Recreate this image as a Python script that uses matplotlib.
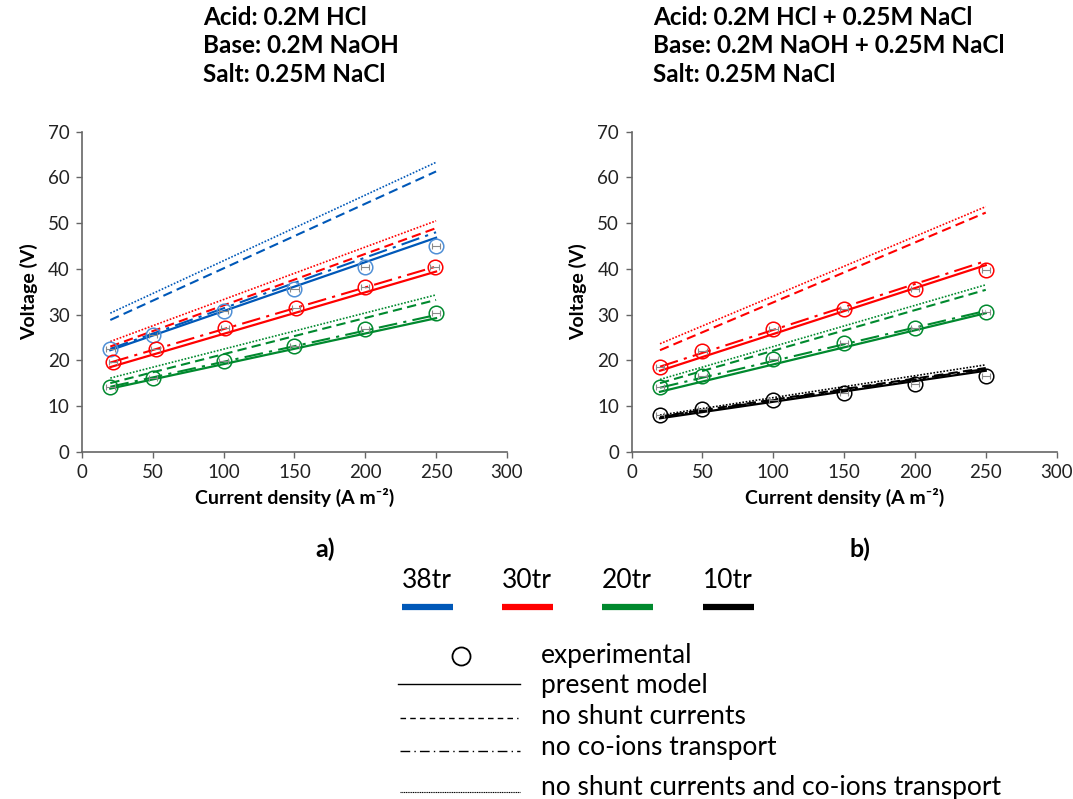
import matplotlib
matplotlib.use("Agg")
import matplotlib.pyplot as plt

plt.rcParams['font.family'] = ['Lato', 'DejaVu Sans']

# current densities of the measurements and the model line ends
x_exp = [20, 50, 100, 150, 200, 250]
x_exp_red = [22, 52, 101, 151, 200, 249]
x_model = [20, 250]

# panel a) - plain acid/base
a_38_exp = [22.5, 25.5, 30.7, 35.5, 40.4, 45.1]
a_38_model = [22.2, 46.8]
a_38_noshunt = [28.8, 61.3]
a_38_nocoion = [22.5, 48.0]
a_38_noboth = [30.3, 63.3]

a_30_exp = [19.6, 22.5, 27.0, 31.5, 36.0, 40.3]
a_30_model = [18.5, 39.4]
a_30_noshunt = [23.0, 48.9]
a_30_nocoion = [19.5, 40.5]
a_30_noboth = [24.1, 50.5]

a_20_exp = [14.1, 16.2, 19.8, 23.2, 26.8, 30.3]
a_20_model = [13.8, 29.2]
a_20_noshunt = [15.0, 33.2]
a_20_nocoion = [14.2, 29.9]
a_20_noboth = [16.1, 34.3]

# panel b) - acid/base with added NaCl
b_30_exp = [18.6, 22.0, 26.8, 31.2, 35.5, 39.7]
b_30_model = [17.7, 40.8]
b_30_noshunt = [22.2, 52.3]
b_30_nocoion = [18.6, 41.7]
b_30_noboth = [23.6, 53.6]

b_20_exp = [14.1, 16.6, 20.2, 23.7, 27.1, 30.6]
b_20_model = [13.1, 30.3]
b_20_noshunt = [15.0, 35.4]
b_20_nocoion = [14.0, 30.8]
b_20_noboth = [15.8, 36.5]

b_10_exp = [8.1, 9.4, 11.3, 12.9, 14.8, 16.6]
b_10_model = [7.3, 17.7]
b_10_noshunt = [7.7, 18.3]
b_10_nocoion = [7.6, 18.1]
b_10_noboth = [8.0, 19.0]

stack_names = ['38tr', '30tr', '20tr', '10tr']
line_colors = ['#0058b8', '#ff0000', '#00892e', '#000000']
marker_colors = ['#4f8fd6', '#ff0000', '#00892e', '#000000']

dash_styles = {
    'model': '-',
    'noshunt': (0, (4.5, 2.5)),
    'nocoion': (0, (9, 3, 1.5, 3)),
    'noboth': (0, (1, 1)),
}

fig = plt.figure(figsize=(10.73, 7.99), dpi=100)
ax_a = fig.add_axes([0.0764, 0.4347, 0.396, 0.4005])
ax_b = fig.add_axes([0.5887, 0.4347, 0.396, 0.4005])


def draw_series(ax, xs, exp, model, noshunt, nocoion, noboth, k):
    c = line_colors[k]
    ax.plot(x_model, noboth, color=c, lw=1.2, ls=dash_styles['noboth'])
    ax.plot(x_model, noshunt, color=c, lw=1.5, ls=dash_styles['noshunt'])
    ax.plot(x_model, nocoion, color=c, lw=1.5, ls=dash_styles['nocoion'])
    ax.plot(x_model, model, color=c, lw=1.6, ls='-')
    ax.errorbar(xs, exp, xerr=3, fmt='none', ecolor='#8a8a8a', elinewidth=0.8,
                capsize=2, capthick=0.8, zorder=4)
    ax.plot(xs, exp, 'o', ms=10.5, mfc='none', mec=marker_colors[k], mew=1.1,
            zorder=5)


draw_series(ax_a, x_exp, a_38_exp, a_38_model, a_38_noshunt, a_38_nocoion, a_38_noboth, 0)
draw_series(ax_a, x_exp_red, a_30_exp, a_30_model, a_30_noshunt, a_30_nocoion, a_30_noboth, 1)
draw_series(ax_a, x_exp, a_20_exp, a_20_model, a_20_noshunt, a_20_nocoion, a_20_noboth, 2)

draw_series(ax_b, x_exp, b_30_exp, b_30_model, b_30_noshunt, b_30_nocoion, b_30_noboth, 1)
draw_series(ax_b, x_exp, b_20_exp, b_20_model, b_20_noshunt, b_20_nocoion, b_20_noboth, 2)
draw_series(ax_b, x_exp, b_10_exp, b_10_model, b_10_noshunt, b_10_nocoion, b_10_noboth, 3)

titles = [
    'Acid: 0.2M HCl\nBase: 0.2M NaOH\nSalt: 0.25M NaCl',
    'Acid: 0.2M HCl + 0.25M NaCl\nBase: 0.2M NaOH + 0.25M NaCl\nSalt: 0.25M NaCl',
]
title_x = [203, 653]
panel_tags = ['a)', 'b)']
tag_x = [325, 860]

for i, ax in enumerate([ax_a, ax_b]):
    ax.set_xlim(0, 300)
    ax.set_ylim(0, 70)
    ax.set_xticks(range(0, 301, 50))
    ax.set_yticks(range(0, 71, 10))
    for s in ['top', 'right']:
        ax.spines[s].set_visible(False)
    for s in ['left', 'bottom']:
        ax.spines[s].set_color('#666666')
        ax.spines[s].set_linewidth(1.2)
    ax.tick_params(direction='out', length=4, width=1, color='#666666',
                   labelsize=13.5, labelcolor='#222222', pad=5)
    ax.set_xlabel('Current density (A m\u207b\u00b2)', fontsize=14,
                  fontweight='bold', labelpad=5)
    ax.set_ylabel('Voltage (V)', fontsize=14, fontweight='bold', labelpad=7)
    fig.text(title_x[i] / 1073, 1 - 6 / 799, titles[i], ha='left', va='top',
             fontsize=17.5, fontweight='bold', linespacing=1.28)
    fig.text(tag_x[i] / 1073, 1 - 549 / 799, panel_tags[i], ha='center',
             va='center', fontsize=18, fontweight='bold')

# legend block, laid out in figure pixels
leg = fig.add_axes([0, 0, 1, 1])
leg.set_xlim(0, 1073)
leg.set_ylim(799, 0)
leg.axis('off')

bar_x = [402, 502, 602, 703]
for k, name in enumerate(stack_names):
    leg.text(bar_x[k] + 25, 581, name, ha='center', va='center', fontsize=19)
    leg.plot([bar_x[k], bar_x[k] + 51], [607, 607], color=line_colors[k],
             lw=4.5, solid_capstyle='butt')

leg.plot([461], [656], 'o', ms=13, mfc='none', mec='black', mew=1.3)
leg.plot([398, 520], [684, 684], color='black', lw=1.0, ls='-')
leg.plot([400, 518], [718, 718], color='black', lw=1.0, ls=(0, (4, 3)))
leg.plot([400, 520], [751, 751], color='black', lw=1.0, ls=(0, (7, 3, 1, 3)))
leg.plot([400, 520], [792, 792], color='black', lw=0.8, ls=(0, (1, 0.6)))

legend_labels = ['experimental', 'present model', 'no shunt currents',
                 'no co-ions transport', 'no shunt currents and co-ions transport']
legend_y = [656, 686, 716, 748, 787]
for lab, y in zip(legend_labels, legend_y):
    leg.text(541, y, lab, ha='left', va='center', fontsize=19)

fig.savefig('out.png', dpi=100)
